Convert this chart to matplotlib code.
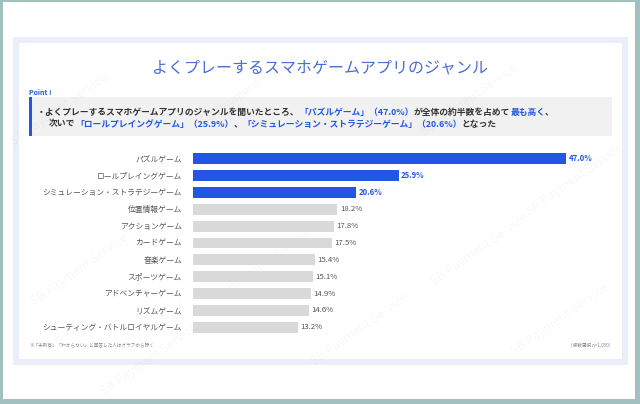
import matplotlib
matplotlib.use("Agg")
import matplotlib.pyplot as plt
from matplotlib.patches import Rectangle

plt.rcParams['font.family'] = ['Noto Sans CJK JP', 'DejaVu Sans']

categories = ["パズルゲーム", "ロールプレイングゲーム", "シミュレーション・ストラテジーゲーム",
              "位置情報ゲーム", "アクションゲーム", "カードゲーム", "音楽ゲーム",
              "スポーツゲーム", "アドベンチャーゲーム", "リズムゲーム",
              "シューティング・バトルロイヤルゲーム"]
values = [47.0, 25.9, 20.6, 18.2, 17.8, 17.5, 15.4, 15.1, 14.9, 14.6, 13.2]
highlight = [True, True, True, False, False, False, False, False, False, False, False]

title = "よくプレーするスマホゲームアプリのジャンル"
point_label = "Point !"
line1 = [("・よくプレーするスマホゲームアプリのジャンルを聞いたところ、", "dark"),
         ("「パズルゲーム」（47.0%）", "blue"),
         ("が全体の約半数を占めて", "dark"),
         ("最も高く", "blue"),
         ("、", "dark")]
line2 = [("次いで", "dark"),
         ("「ロールプレイングゲーム」（25.9%）", "blue"),
         ("、", "dark"),
         ("「シミュレーション・ストラテジーゲーム」（20.6%）", "blue"),
         ("となった", "dark")]
note_left = "※「未所有」「わからない」と回答した人はグラフから除く"
note_right = "（複数選択 n=1,050）"

BLUE = "#2456e6"
GREY = "#d9d9d9"
DARK = "#333333"
LABEL = "#555555"
TITLE_C = "#4a6ed6"
cmap = {"dark": DARK, "blue": BLUE}

W, H = 640, 404
fig = plt.figure(figsize=(W / 100, H / 100), dpi=100)
fig.patch.set_facecolor("white")

bg = fig.add_axes([0, 0, 1, 1])
bg.set_xlim(0, W)
bg.set_ylim(H, 0)
bg.axis("off")
bg.set_zorder(-1)

# outer teal frame
teal = "#a2c1be"
bg.add_patch(Rectangle((0, 0), W, H, facecolor=teal, edgecolor="none"))
bg.add_patch(Rectangle((3, 2), W - 8, H - 7, facecolor="white", edgecolor="none"))
# card
bg.add_patch(Rectangle((13, 37), 615, 328, facecolor="#e9eef9", edgecolor="none"))
bg.add_patch(Rectangle((19, 43), 603, 316, facecolor="white", edgecolor="none"))

# watermarks
for (x, y) in [(60, 110), (250, 90), (470, 100), (80, 270), (270, 260), (480, 250),
               (150, 360), (360, 330), (560, 320), (575, 180)]:
    bg.text(x, y, "SB Payment Service", rotation=35, fontsize=9, color="#000000",
            alpha=0.03, ha="center", va="center")

bg.text(320, 68, title, ha="center", va="center", fontsize=11.5, color=TITLE_C)
bg.text(29, 92.5, point_label, ha="left", va="center", fontsize=5, color=BLUE,
        fontweight="bold")
bg.add_patch(Rectangle((29, 97), 583, 39, facecolor="#f1f1f1", edgecolor="none"))
bg.add_patch(Rectangle((29, 97), 3, 39, facecolor=BLUE, edgecolor="none"))

renderer = fig.canvas.get_renderer()


def rich(parts, x, y, size):
    for s, c in parts:
        t = bg.text(x, y, s, ha="left", va="center", fontsize=size, color=cmap[c],
                    fontweight="bold")
        bb = t.get_window_extent(renderer)
        x += bb.width


rich(line1, 37, 112, 6.35)
rich(line2, 49, 124, 6.35)

bg.text(29, 345, note_left, ha="left", va="center", fontsize=3.3, color="#888888")
bg.text(614, 345, note_right, ha="right", va="center", fontsize=3.3, color="#888888")

# bar chart
px_per_unit = 7.936
ax_l, ax_r = 193, 613
top, bottom = 150.4, 335.6
ax = fig.add_axes([ax_l / W, 1 - bottom / H, (ax_r - ax_l) / W, (bottom - top) / H])
ax.patch.set_alpha(0)
n = len(values)
ypos = list(range(n))
colors = [BLUE if h else GREY for h in highlight]
ax.barh(ypos, values, height=0.65, color=colors)
ax.set_xlim(0, (ax_r - ax_l) / px_per_unit)
ax.set_ylim(n - 0.5, -0.5)
ax.set_yticks(ypos)
ax.set_yticklabels(categories, fontsize=5.6, color=LABEL)
ax.tick_params(axis="y", length=0, pad=8)
ax.set_xticks([])
for s in ax.spines.values():
    s.set_visible(False)
for i, (v, h) in enumerate(zip(values, highlight)):
    ax.text(v + 0.3, i, f"{v:.1f}%", va="center", ha="left", fontsize=5.6,
            color=BLUE if h else LABEL, fontweight="bold" if h else "normal")

fig.savefig("out.png", dpi=100)
